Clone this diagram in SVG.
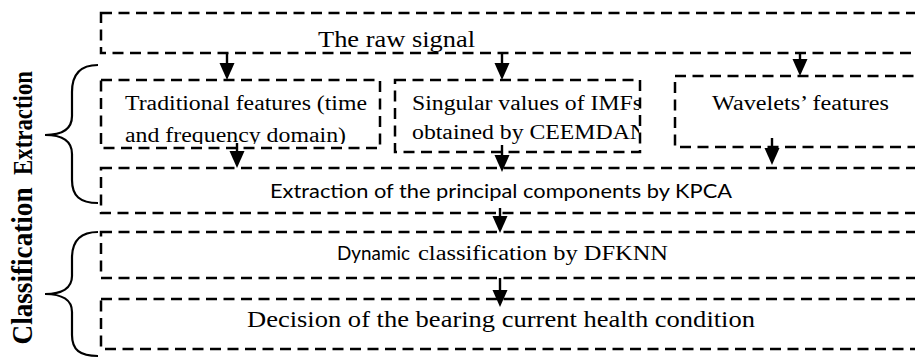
<svg xmlns="http://www.w3.org/2000/svg" width="915" height="359" viewBox="0 0 915 359">
<defs>
<style>
.box{fill:none;stroke:#000;stroke-width:2.5;stroke-dasharray:11 6.5}
.brace{fill:none;stroke:#000;stroke-width:2.2}
.ln{stroke:#000;stroke-width:2.4}
.hd{fill:#000}
.serif{font-family:"Liberation Serif","Times New Roman",serif;fill:#000}
.sans{font-family:Lato,"Liberation Sans",sans-serif;fill:#000}
.lbl{font-family:"Liberation Serif","Times New Roman",serif;font-weight:bold;fill:#000}
</style>
<clipPath id="c1"><rect x="101" y="80" width="279" height="64"/></clipPath>
<clipPath id="c2"><rect x="395" y="80" width="244" height="66"/></clipPath>
</defs>
<rect width="915" height="359" fill="#fff"/>

<g id="label-extraction">
<text class="lbl" font-size="23" text-anchor="middle" textLength="104" lengthAdjust="spacingAndGlyphs" transform="translate(32,123) scale(1.186,1) rotate(-90)">Extraction</text>
<path class="brace" d="M98,65 C80,65 72,74 72,92 L72,116 C72,129 62,135 45,135 C62,135 72,141 72,154 L72,180 C72,196 80,203 98,203"/>
</g>
<g id="label-classification">
<text class="lbl" font-size="25.5" text-anchor="middle" textLength="157" lengthAdjust="spacingAndGlyphs" transform="translate(32,266) scale(1.15,1) rotate(-90)">Classification</text>
<path class="brace" d="M98,232 C80,232 72,241 72,258 L72,276 C72,288 62,294 45,294 C62,294 72,300 72,312 L72,335 C72,350 80,356 98,356"/>
</g>

<g id="raw-signal">
<rect class="box" x="101" y="13" width="840" height="40"/>
<text class="serif" x="318" y="47" font-size="22.3" textLength="157" lengthAdjust="spacingAndGlyphs">The raw signal</text>
</g>

<g id="traditional">
<rect class="box" x="101" y="80" width="279" height="68"/>
<g clip-path="url(#c1)">
<text class="serif" x="125" y="110" font-size="20" textLength="242" lengthAdjust="spacingAndGlyphs">Traditional features (time</text>
<text class="serif" x="125" y="142" font-size="20" textLength="221" lengthAdjust="spacingAndGlyphs">and frequency domain)</text>
</g>
</g>

<g id="singular">
<rect class="box" x="395" y="80" width="245" height="72"/>
<g clip-path="url(#c2)">
<text class="serif" x="412" y="110" font-size="20" textLength="230" lengthAdjust="spacingAndGlyphs">Singular values of IMFs</text>
<text class="serif" x="412" y="139" font-size="20" textLength="235" lengthAdjust="spacingAndGlyphs">obtained by CEEMDAN</text>
</g>
</g>

<g id="wavelets">
<rect class="box" x="675" y="76" width="270" height="71"/>
<text class="serif" x="712" y="110" font-size="20" textLength="177" lengthAdjust="spacingAndGlyphs">Wavelets’ features</text>
</g>

<g id="kpca">
<rect class="box" x="101" y="168" width="840" height="45"/>
<text class="sans" x="270" y="198" font-size="18.5" textLength="462" lengthAdjust="spacingAndGlyphs">Extraction of the principal components by KPCA</text>
</g>

<g id="dfknn">
<rect class="box" x="101" y="232" width="840" height="46"/>
<text class="sans" x="337" y="260" font-size="18.5" textLength="73" lengthAdjust="spacingAndGlyphs">Dynamic</text>
<text class="serif" x="418" y="260" font-size="20.5" textLength="250" lengthAdjust="spacingAndGlyphs">classification by DFKNN</text>
</g>

<g id="decision">
<rect class="box" x="101" y="299" width="840" height="50"/>
<text class="serif" x="247" y="327" font-size="22.3" textLength="508" lengthAdjust="spacingAndGlyphs">Decision of the bearing current health condition</text>
</g>

<g id="connectors">
<line class="ln" x1="227" y1="53" x2="227" y2="66"/><path class="hd" d="M219.5,63 L234.5,63 L227,80 Z"/>
<line class="ln" x1="502" y1="53" x2="502" y2="66"/><path class="hd" d="M494.5,63 L509.5,63 L502,80 Z"/>
<line class="ln" x1="800" y1="53" x2="800" y2="62"/><path class="hd" d="M792.5,59 L807.5,59 L800,76 Z"/>
<line class="ln" x1="237" y1="143" x2="237" y2="154"/><path class="hd" d="M229.5,151 L244.5,151 L237,168 Z"/>
<line class="ln" x1="502" y1="145" x2="502" y2="158"/><path class="hd" d="M494.5,155 L509.5,155 L502,172 Z"/>
<line class="ln" x1="772" y1="138" x2="772" y2="151"/><path class="hd" d="M764.5,148 L779.5,148 L772,165 Z"/>
<line class="ln" x1="500" y1="208" x2="500" y2="219"/><path class="hd" d="M492.5,216 L507.5,216 L500,233 Z"/>
<line class="ln" x1="500" y1="278" x2="500" y2="293"/><path class="hd" d="M492.5,290 L507.5,290 L500,307 Z"/>
</g>
</svg>
